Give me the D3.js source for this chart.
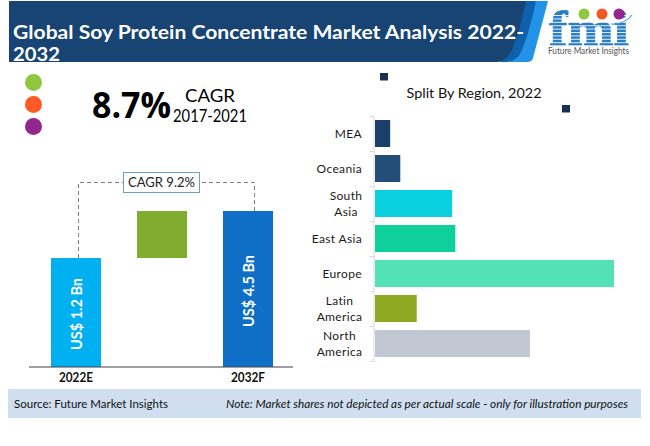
<!DOCTYPE html>
<html><head><meta charset="utf-8">
<script src="https://cdn.jsdelivr.net/npm/d3@7"></script>
<style>html,body{margin:0;padding:0;background:#fff}svg{display:block}text{font-family:Lato,"Open Sans",sans-serif}</style>
</head><body><div id="c"></div>
<script>
const titleLines = ["Global Soy Protein Concentrate Market Analysis 2022-", "2032"];
const regionTitle = "Split By Region, 2022";
const regions = ["MEA", "Oceania", "South Asia", "East Asia", "Europe", "Latin America", "North America"];
const regionLabels = [["MEA"], ["Oceania"], ["South", "Asia"], ["East Asia"], ["Europe"], ["Latin", "America"], ["North", "America"]];
const regionShares = [2.4, 4.0, 12.2, 12.7, 37.8, 6.6, 24.5];
const regionColors = ["#1b3f66", "#234e77", "#0ad0de", "#0fd09a", "#53e2b6", "#90a922", "#c1c7d3"];
const periods = ["2022E", "bridge", "2032F"];
const startValue = 1.2, endValue = 4.5;
const valueLabels = ["US$ 1.2 Bn", "US$ 4.5 Bn"];
const cagrBadge = "CAGR 9.2%";
const dotColors = ["#8fc73e", "#ff5a26", "#92278f"];

const W = 650, H = 446;
const svg = d3.select("#c").append("svg").attr("width", W).attr("height", H);

// Header band
svg.append("path").attr("d", "M536,1H548L533,58Q532,62 527,62H510Z").attr("fill", "#2293e6");
svg.append("path").attr("d", "M525,1H536Q530,30 522,50Q518,60 508,62H500Z").attr("fill", "#0f61ad");
svg.append("path").attr("d", "M9,1H526Q520,30 513,48Q508,60 498,62H9Z").attr("fill", "#174472");
const tt = svg.append("g").attr("fill", "#fff").style("font-weight", 700);
titleLines.forEach((t, i) => {
  tt.append("text").attr("x", 13).attr("y", 38.5 + i * 22).attr("font-size", 18)
    .attr("textLength", i === 0 ? 511 : 47).attr("lengthAdjust", "spacingAndGlyphs").text(t);
});
svg.append("rect").attr("x", 0).attr("y", 62).attr("width", 540).attr("height", 8).attr("fill", "#fff");

// Logo
const logo = svg.append("g");
logo.append("text").attr("x", 589).attr("y", 45).attr("text-anchor", "middle")
  .attr("font-size", 48).attr("fill", "#2a7fc4").attr("stroke", "#2a7fc4").attr("stroke-width", 0.8)
  .style("font-family", "'Liberation Serif',serif").style("font-weight", 700)
  .attr("textLength", 80).attr("lengthAdjust", "spacingAndGlyphs").text("fmi");
d3.range(15, 46, 3.4).forEach(y => logo.append("rect").attr("x", 546).attr("y", y).attr("width", 88).attr("height", 1).attr("fill", "#fff").attr("fill-opacity", 0.85));
[[584, 14, "#8fc73e"], [602, 14, "#ef5a24"], [619, 14, "#92278f"]].forEach(d =>
  logo.append("circle").attr("cx", d[0]).attr("cy", d[1]).attr("r", 5.5).attr("fill", d[2]));
logo.append("path").attr("d", "M611,24Q624,25 632,15").attr("fill", "none").attr("stroke", "#4a9fd8").attr("stroke-width", 1.2);
logo.append("text").attr("x", 548).attr("y", 53.5).attr("font-size", 8.5).attr("fill", "#555")
  .attr("textLength", 81).attr("lengthAdjust", "spacingAndGlyphs").text("Future Market Insights");

// Dots
dotColors.forEach((c, i) => svg.append("circle").attr("cx", 33.5).attr("cy", 82.5 + i * 22).attr("r", 8.5).attr("fill", c));

// Headline CAGR
svg.append("text").attr("x", 92).attr("y", 118).attr("font-size", 36).style("font-weight", 700).style("font-family", "'Open Sans'").attr("fill", "#000")
  .attr("textLength", 79).attr("lengthAdjust", "spacingAndGlyphs").text("8.7%");
svg.append("text").attr("x", 185).attr("y", 102).attr("font-size", 16.5).style("font-weight", 400).attr("fill", "#000")
  .attr("textLength", 50).attr("lengthAdjust", "spacingAndGlyphs").text("CAGR");
svg.append("text").attr("x", 173).attr("y", 122).attr("font-size", 16.5).style("font-weight", 400).attr("fill", "#000")
  .attr("textLength", 74).attr("lengthAdjust", "spacingAndGlyphs").text("2017-2021");

// Waterfall
const xW = d3.scaleBand().domain(periods).range([29, 295]).paddingInner(36 / 86).paddingOuter(22 / 86);
const yW = d3.scaleLinear().domain([-6.45, endValue]).range([367, 211]);
const wf = [
  {k: periods[0], a: yW.domain()[0], b: startValue, c: "#00b0f0"},
  {k: periods[1], a: startValue, b: endValue, c: "#80ad30"},
  {k: periods[2], a: yW.domain()[0], b: endValue, c: "#0f6fc6"}
];
svg.append("g").selectAll("rect").data(wf).join("rect")
  .attr("x", d => xW(d.k)).attr("width", xW.bandwidth())
  .attr("y", d => yW(d.b)).attr("height", d => yW(d.a) - yW(d.b)).attr("fill", d => d.c);
svg.append("line").attr("x1", 29).attr("x2", 293).attr("y1", 367).attr("y2", 367).attr("stroke", "#404040").attr("stroke-width", 1);

const cx0 = xW(periods[0]) + xW.bandwidth() / 2 + 2.5, cx2 = xW(periods[2]) + xW.bandwidth() / 2 + 6.5;
const dash = svg.append("g").attr("fill", "none").attr("stroke", "#7f7f7f").attr("stroke-width", 1).attr("stroke-dasharray", "4,3");
dash.append("path").attr("d", `M${cx0},${yW(startValue)}V182.5H123`);
dash.append("path").attr("d", `M${cx2},${yW(endValue)}V182.5H199`);
svg.append("rect").attr("x", 123.5).attr("y", 172.5).attr("width", 76).attr("height", 20).attr("fill", "#fff").attr("stroke", "#6a9fd4").attr("stroke-width", 1);
svg.append("text").attr("x", 161.5).attr("y", 187).attr("text-anchor", "middle").attr("font-size", 13).attr("fill", "#222")
  .attr("textLength", 67).attr("lengthAdjust", "spacingAndGlyphs").text(cagrBadge);

[periods[0], periods[2]].forEach((p, i) => {
  const c = xW(p) + xW.bandwidth() / 2;
  svg.append("text").attr("x", c).attr("y", 382).attr("text-anchor", "middle").attr("font-size", 12.5).style("font-weight", 700).attr("fill", "#111")
    .attr("textLength", 34).attr("lengthAdjust", "spacingAndGlyphs").text(p);
  const midY = i === 0 ? 314 : 291;
  svg.append("text").attr("transform", `translate(${c + 6},${midY}) rotate(-90)`).attr("text-anchor", "middle")
    .attr("font-size", 15).style("font-weight", 700).attr("fill", "#fff")
    .attr("textLength", 72).attr("lengthAdjust", "spacingAndGlyphs").text(valueLabels[i]);
});

// Region chart
svg.append("text").attr("x", 474).attr("y", 98).attr("text-anchor", "middle").attr("font-size", 14).attr("fill", "#111")
  .attr("textLength", 135).attr("lengthAdjust", "spacingAndGlyphs").text(regionTitle);
[[380, 73], [562, 105]].forEach(d => svg.append("rect").attr("x", d[0]).attr("y", d[1]).attr("width", 8).attr("height", 7.5).attr("fill", "#17324f"));

const yR = d3.scaleBand().domain(regions).range([116, 361]).paddingInner(8 / 35).paddingOuter(4 / 35);
const xR = d3.scaleLinear().domain([0, 37.8]).range([375, 614]);
svg.append("g").selectAll("rect").data(regions).join("rect")
  .attr("x", xR(0)).attr("y", d => yR(d)).attr("height", yR.bandwidth())
  .attr("width", (d, i) => xR(regionShares[i]) - xR(0)).attr("fill", (d, i) => regionColors[i]);
const ax = svg.append("g").attr("stroke", "#d9d9d9").attr("fill", "none").attr("stroke-width", 1);
ax.append("line").attr("x1", 374).attr("x2", 374).attr("y1", 116).attr("y2", 361.5);
d3.range(0, 8).forEach(i => {
  const y = 116.5 + i * 35;
  ax.append("line").attr("x1", 369.5).attr("x2", 374).attr("y1", y).attr("y2", y);
});
const lab = svg.append("g").attr("font-size", 12).attr("fill", "#1a1a1a").style("letter-spacing", "0.35px");
regionLabels.forEach((ls, i) => {
  const c = yR(regions[i]) + yR.bandwidth() / 2;
  ls.forEach((l, j) => {
    const multi = ls.length > 1;
    lab.append("text").attr("x", multi ? (i === 2 ? 346 : 339.5) : 362).attr("text-anchor", multi ? "middle" : "end")
      .attr("y", c + 4.5 + (j - (ls.length - 1) / 2) * 16).text(l);
  });
});

// Footer
svg.append("rect").attr("x", 8).attr("y", 389).attr("width", 633).attr("height", 29).attr("fill", "#cfdff0");
svg.append("text").attr("x", 14).attr("y", 408).attr("font-size", 12).attr("fill", "#111")
  .attr("textLength", 154).attr("lengthAdjust", "spacingAndGlyphs").text("Source: Future Market Insights");
svg.append("text").attr("x", 226).attr("y", 408).attr("font-size", 12).attr("font-style", "italic").attr("fill", "#111")
  .attr("textLength", 402).attr("lengthAdjust", "spacingAndGlyphs").text("Note: Market shares not depicted as per actual scale - only for illustration purposes");
</script></body></html>
